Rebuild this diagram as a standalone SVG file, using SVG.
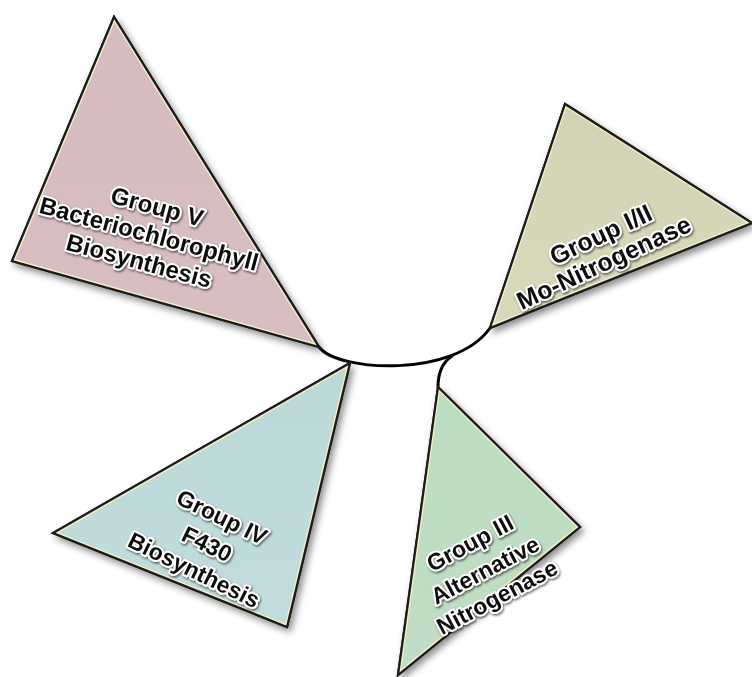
<svg xmlns="http://www.w3.org/2000/svg" width="752" height="677" viewBox="0 0 752 677">
<defs>
<style>
.tri{stroke:#1c1c1c;stroke-width:2.2;stroke-linejoin:miter}
.hl{fill:none;stroke:#f3efc6;stroke-width:5}
.lbl{font-family:"Liberation Sans",Arial,sans-serif;font-weight:bold;fill:#111;stroke:#fff;stroke-width:4;stroke-linejoin:round;paint-order:stroke;text-anchor:middle}
.edge{fill:none;stroke:#000;stroke-width:3;stroke-linecap:round}
</style>
<filter id="sh" x="-20%" y="-20%" width="140%" height="140%"><feDropShadow dx="3" dy="4" stdDeviation="3.5" flood-color="#000" flood-opacity="0.45"/></filter>
<filter id="ts" x="-10%" y="-30%" width="120%" height="160%"><feDropShadow dx="1" dy="1.5" stdDeviation="1.3" flood-color="#000" flood-opacity="0.6"/></filter>
<linearGradient id="gP" x1="0" y1="0" x2="0" y2="1"><stop offset="0" stop-color="#d6bcbf"/><stop offset="1" stop-color="#d9bec1"/></linearGradient>
<linearGradient id="gY" x1="0" y1="0" x2="0" y2="1"><stop offset="0" stop-color="#d3d3b4"/><stop offset="1" stop-color="#d8d8bc"/></linearGradient>
<linearGradient id="gB" x1="0" y1="0" x2="0" y2="1"><stop offset="0" stop-color="#bcd8d9"/><stop offset="1" stop-color="#c2dcdd"/></linearGradient>
<linearGradient id="gG" x1="0" y1="0" x2="0" y2="1"><stop offset="0" stop-color="#bcdcc1"/><stop offset="1" stop-color="#c2ddc5"/></linearGradient>
<clipPath id="c5"><polygon points="114,17 12,261 319,347"/></clipPath>
<clipPath id="c1"><polygon points="490,328 565,104 752,223"/></clipPath>
<clipPath id="c4"><polygon points="350,363 53,533 287,627"/></clipPath>
<clipPath id="c3"><polygon points="438,387 580,527 398,675"/></clipPath>
</defs>
<rect width="752" height="677" fill="#fff"/>

<g id="connectors">
<path class="edge" d="M319,347 C338,372 455,378 490,328"/>
<path class="edge" d="M452,356 C443,362 438,372 438,387"/>
</g>

<g id="group-v">
<polygon class="tri" points="114,17 12,261 319,347" fill="url(#gP)" filter="url(#sh)"/>
<polygon class="hl" points="114,17 12,261 319,347" clip-path="url(#c5)"/>
<polygon class="tri" points="114,17 12,261 319,347" fill="none"/>
<g filter="url(#ts)">
<text class="lbl" font-size="24" transform="translate(157,207) rotate(15)" y="8">Group V</text>
<text class="lbl" font-size="24" transform="translate(149,234) rotate(15)" y="8">Bacteriochlorophyll</text>
<text class="lbl" font-size="24" transform="translate(139,261) rotate(15)" y="8">Biosynthesis</text>
</g>
</g>

<g id="group-i-ii">
<polygon class="tri" points="490,328 565,104 752,223" fill="url(#gY)" filter="url(#sh)"/>
<polygon class="hl" points="490,328 565,104 752,223" clip-path="url(#c1)"/>
<polygon class="tri" points="490,328 565,104 752,223" fill="none"/>
<g filter="url(#ts)">
<text class="lbl" font-size="25" transform="translate(601,235) rotate(-25)" y="8">Group I/II</text>
<text class="lbl" font-size="25" transform="translate(604,263) rotate(-25)" y="8">Mo-Nitrogenase</text>
</g>
</g>

<g id="group-iv">
<polygon class="tri" points="350,363 53,533 287,627" fill="url(#gB)" filter="url(#sh)"/>
<polygon class="hl" points="350,363 53,533 287,627" clip-path="url(#c4)"/>
<polygon class="tri" points="350,363 53,533 287,627" fill="none"/>
<g filter="url(#ts)">
<text class="lbl" font-size="23" transform="translate(222,517) rotate(26)" y="8">Group IV</text>
<text class="lbl" font-size="23" transform="translate(207,544) rotate(26)" y="8">F430</text>
<text class="lbl" font-size="23" transform="translate(194,570) rotate(26)" y="8">Biosynthesis</text>
</g>
</g>

<g id="group-iii">
<polygon class="tri" points="438,387 580,527 398,675" fill="url(#gG)" filter="url(#sh)"/>
<polygon class="hl" points="438,387 580,527 398,675" clip-path="url(#c3)"/>
<polygon class="tri" points="438,387 580,527 398,675" fill="none"/>
<g filter="url(#ts)">
<text class="lbl" font-size="23" transform="translate(470,543) rotate(-28)" y="8">Group III</text>
<text class="lbl" font-size="23" transform="translate(485,570) rotate(-28)" y="8">Alternative</text>
<text class="lbl" font-size="23" transform="translate(497,597) rotate(-28)" y="8">Nitrogenase</text>
</g>
</g>
</svg>
